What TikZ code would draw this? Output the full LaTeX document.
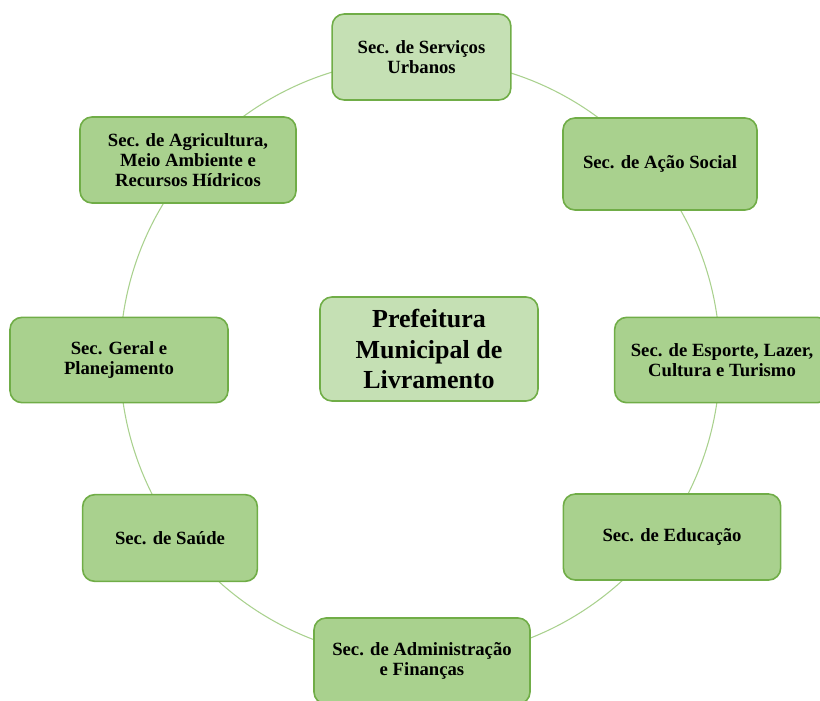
\documentclass[tikz,border=0pt]{standalone}
\usepackage{fontspec}
\setmainfont{Liberation Serif}
\usepackage{xcolor}
\usepackage{tikz}
\usetikzlibrary{positioning}

\definecolor{paleleaf}{HTML}{C5E0B4}
\definecolor{leaf}{HTML}{A9D18E}
\definecolor{leafedge}{HTML}{70AD47}

\begin{document}
\begin{tikzpicture}[
    x=0.75pt, y=-0.75pt,
    secbox/.style={rectangle, rounded corners=9pt, draw=leafedge, line width=1.2pt,
      fill=#1, align=center, inner sep=1pt,
      font=\fontsize{14}{15}\selectfont\bfseries},
    secbox/.default=leaf,
    ring/.style={draw=leaf, line width=0.8pt},
  ]
  \useasboundingbox (0,0) rectangle (820,700);
  \clip (0,0) rectangle (820,700);

  % Ring behind the boxes
  \coordinate (hub) at (420,359);
  \draw[ring] (hub) circle[radius=225pt];

  % Centre
  \node[secbox=paleleaf, minimum width=163.5pt, minimum height=78pt,
        font=\fontsize{19.5}{23}\selectfont\bfseries] (pref) at (429,349)
        {Prefeitura\\Municipal de\\Livramento};

  % Secretarias round the ring
  \node[secbox=paleleaf, minimum width=134pt, minimum height=64.5pt] (srv) at (421.5,57)
        {Sec. de Serviços\\Urbanos};
  \node[secbox, minimum width=145.5pt, minimum height=69pt] (acao) at (660,164)
        {Sec. de Ação Social};
  \node[secbox, minimum width=161pt, minimum height=64pt] (esp) at (722,360)
        {Sec. de Esporte, Lazer,\\Cultura e Turismo};
  \node[secbox, minimum width=163pt, minimum height=64.5pt] (edu) at (672,537)
        {Sec. de Educação};
  \node[secbox, minimum width=162pt, minimum height=64.5pt] (adm) at (422,661)
        {Sec. de Administração\\e Finanças};
  \node[secbox, minimum width=131pt, minimum height=65pt] (sau) at (170,538)
        {Sec. de Saúde};
  \node[secbox, minimum width=163.5pt, minimum height=64pt] (ger) at (119,360)
        {Sec. Geral e\\Planejamento};
  \node[secbox, minimum width=162pt, minimum height=64.5pt] (agr) at (188,160)
        {Sec. de Agricultura,\\Meio Ambiente e\\Recursos Hídricos};
\end{tikzpicture}
\end{document}
